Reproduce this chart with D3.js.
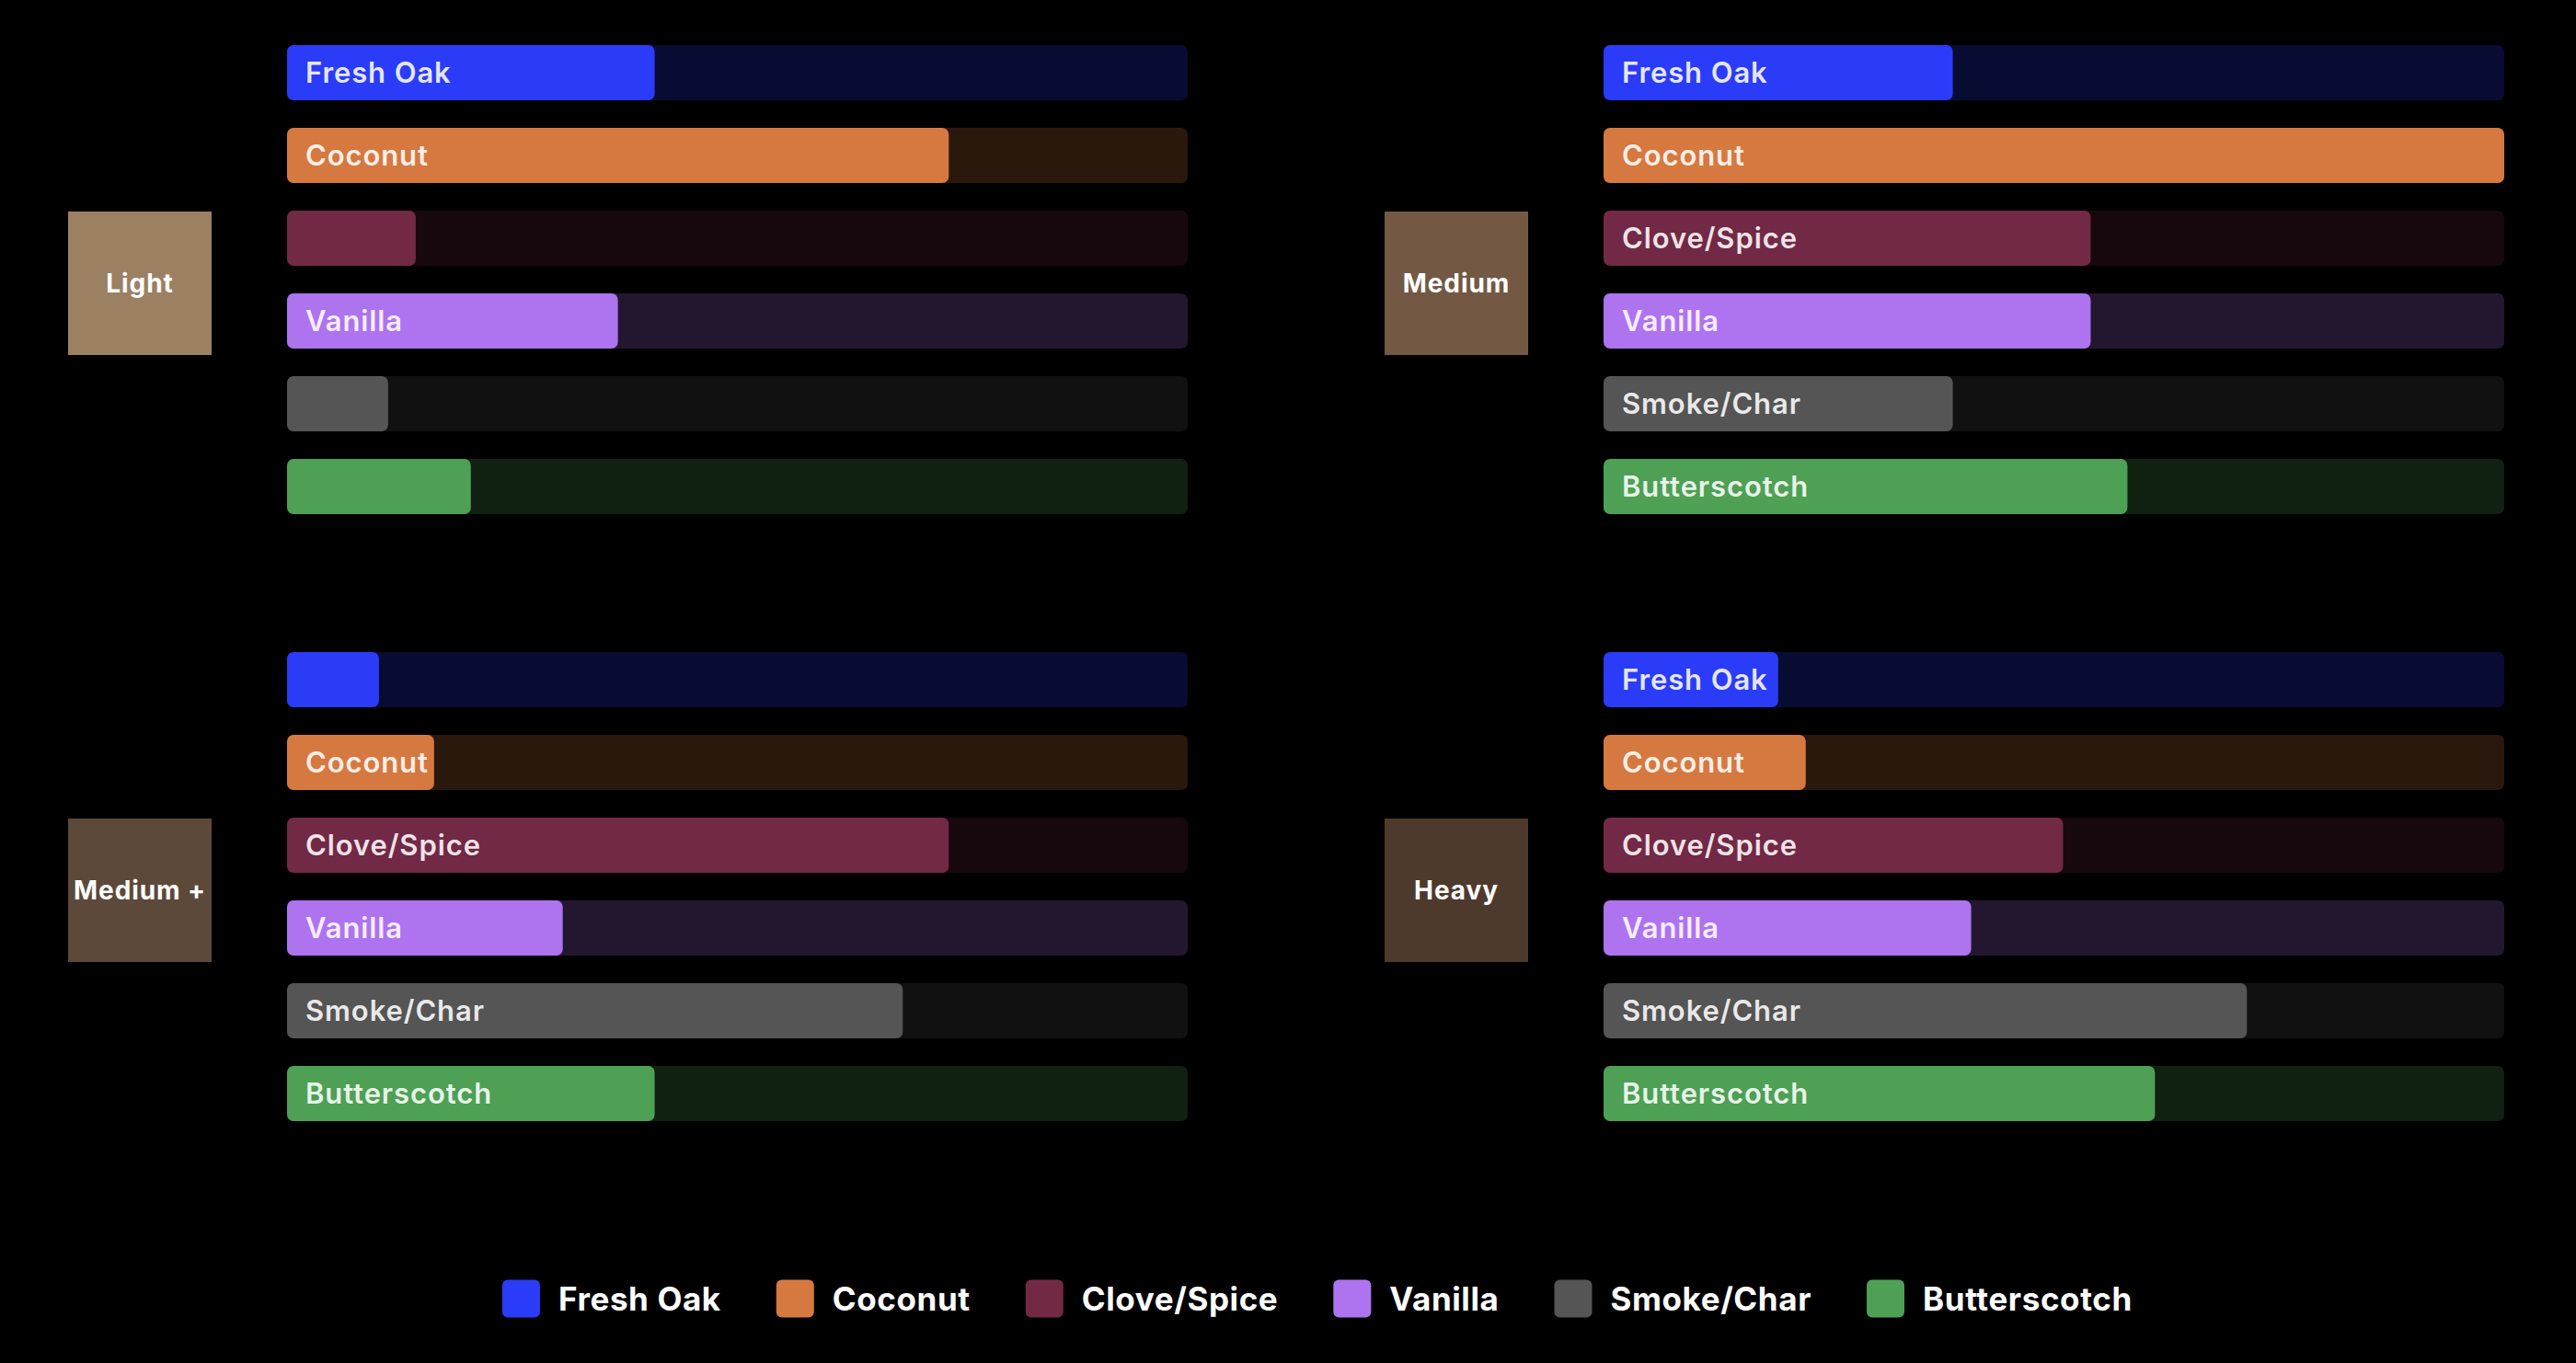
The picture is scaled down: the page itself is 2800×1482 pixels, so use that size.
<!DOCTYPE html>
<html>
<head>
<meta charset="utf-8">
<script src="https://cdn.jsdelivr.net/npm/d3@7"></script>
<style>
  html, body { margin: 0; padding: 0; background: #000; }
  svg { display: block; }
</style>
</head>
<body>
<script>
// flavour categories and colours
const flavors = ["Fresh Oak", "Coconut", "Clove/Spice", "Vanilla", "Smoke/Char", "Butterscotch"];
const flavorColors = ["#2a3cf8", "#d67940", "#722945", "#ae73ef", "#555555", "#4ea055"];

// toast levels, box colours
const toasts = ["Light", "Medium", "Medium +", "Heavy"];
const toastColors = ["#9c8062", "#735843", "#5c4939", "#4e3a2c"];

// intensity per flavour (same order as flavors)
const lightValues = [40, 72, 14, 36, 11, 20];
const mediumValues = [38, 98, 53, 53, 38, 57];
const mediumPlusValues = [10, 16, 72, 30, 67, 40];
const heavyValues = [19, 22, 50, 40, 70, 60];
const toastValues = [lightValues, mediumValues, mediumPlusValues, heavyValues];

const W = 2800, H = 1482;
const svg = d3.select("body").append("svg").attr("width", W).attr("height", H);

const font = "Inter, 'Open Sans', sans-serif";
const panelX = [0, 1431];     // horizontal offset of each column
const panelY = [49, 709];     // top of the first bar in each row of panels
const boxX = 74, boxSize = 156;
const trackX = 312, trackW = 979;

const x = d3.scaleLinear()
    .domain([0, d3.max(toastValues.flat())])
    .range([0, trackW]);

const y = d3.scaleBand()
    .domain(flavors)
    .range([0, 510])
    .paddingInner(1 / 3);

const color = d3.scaleOrdinal().domain(flavors).range(flavorColors);

toasts.forEach((t, i) => {
    let g = svg.append("g")
        .attr("transform", `translate(${panelX[i % 2]},${panelY[Math.floor(i / 2)]})`);

    let midY = 510 / 2 + 4;
    g.append("rect")
        .attr("x", boxX)
        .attr("y", midY - boxSize / 2)
        .attr("width", boxSize)
        .attr("height", boxSize)
        .attr("fill", toastColors[i]);

    g.append("text")
        .attr("x", boxX + boxSize / 2)
        .attr("y", midY)
        .attr("dy", "0.35em")
        .attr("text-anchor", "middle")
        .attr("fill", "#fff")
        .style("font-family", font)
        .style("font-weight", 700)
        .style("font-size", "28px")
        .style("letter-spacing", "0.9px")
        .text(t);

    let rows = flavors.map((f, j) => ({ flavor: f, value: toastValues[i][j] }));

    let row = g.selectAll(null)
        .data(rows)
        .enter()
        .append("g")
        .attr("transform", d => `translate(${trackX},${y(d.flavor)})`);

    // background track
    row.append("rect")
        .attr("width", trackW)
        .attr("height", y.bandwidth())
        .attr("rx", 7)
        .attr("fill", d => color(d.flavor))
        .attr("fill-opacity", 0.2);

    row.append("rect")
        .attr("width", d => x(d.value))
        .attr("height", y.bandwidth())
        .attr("rx", 7)
        .attr("fill", d => color(d.flavor));

    row.append("text")
        .attr("x", 20)
        .attr("y", y.bandwidth() / 2)
        .attr("dy", "0.36em")
        .attr("fill", "#fff")
        .attr("fill-opacity", 0.88)
        .style("font-family", font)
        .style("font-weight", 600)
        .style("font-size", "31px")
        .style("letter-spacing", "0.9px")
        .text(d => d.flavor)
        .each(function (d) {
            // hide the label when it does not fit inside the bar
            if (20 + this.getComputedTextLength() > x(d.value)) d3.select(this).remove();
        });
});

// legend
let legend = svg.append("g").attr("transform", "translate(546,1412)");
let lx = 0;
flavors.forEach((f, i) => {
    let item = legend.append("g").attr("transform", `translate(${lx},0)`);
    item.append("rect")
        .attr("y", -20.5)
        .attr("width", 41)
        .attr("height", 41)
        .attr("rx", 6)
        .attr("fill", flavorColors[i]);
    let txt = item.append("text")
        .attr("x", 61)
        .attr("dy", "0.36em")
        .attr("fill", "#fff")
        .style("font-family", font)
        .style("font-weight", 700)
        .style("font-size", "35px")
        .style("letter-spacing", "0.6px")
        .text(f);
    lx += 61 + txt.node().getComputedTextLength() + 60;
});
</script>
</body>
</html>
